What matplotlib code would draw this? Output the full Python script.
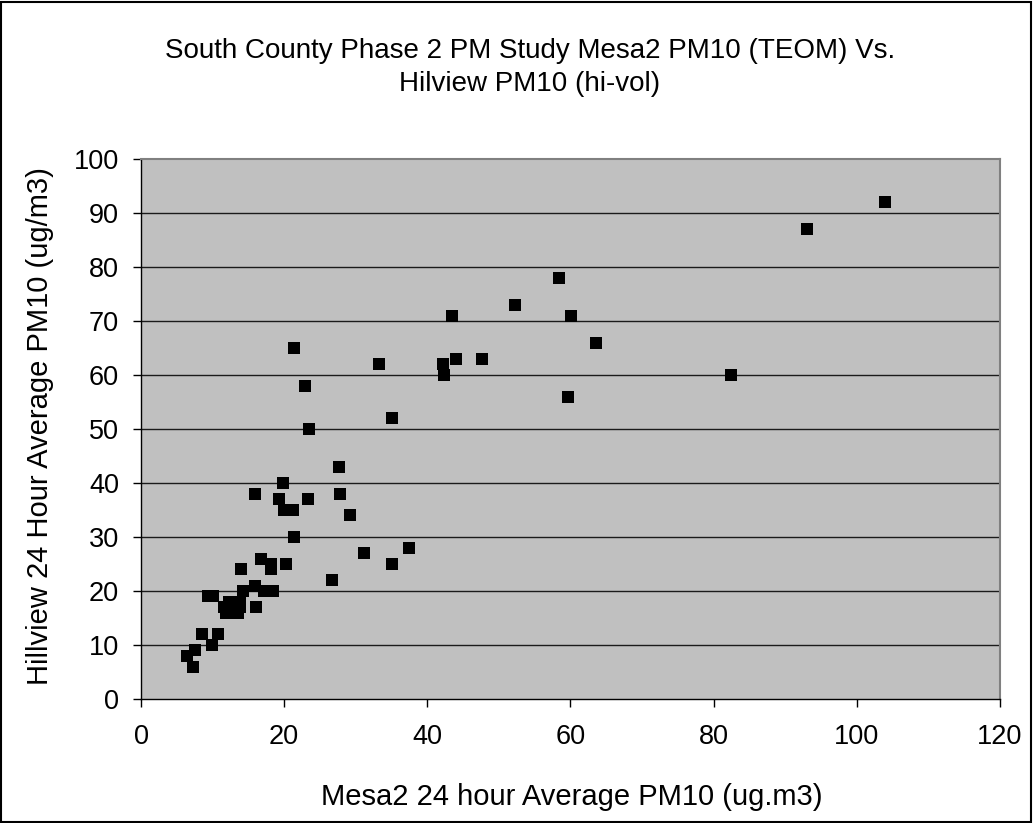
import matplotlib.pyplot as plt
from matplotlib.patches import Rectangle

plt.rcParams['font.family'] = ['Liberation Sans', 'DejaVu Sans']

# Mesa2 TEOM (x) vs Hillview hi-vol (y)
mesa2 = [103.9, 93.1, 82.4, 58.4, 52.2, 43.4, 60.1, 63.6, 44.0, 47.7,
         42.2, 42.4, 59.6, 33.3, 22.9, 35.0, 23.5, 27.6, 27.8, 21.4,
         19.85, 15.9, 19.3, 23.4, 20.0, 21.2, 29.2, 21.4, 31.1, 37.4,
         16.7, 18.1, 20.2, 35.0, 14.0, 18.2, 26.7, 15.9, 14.2, 17.2,
         18.5, 9.3, 10.1, 12.25, 13.8, 11.6, 13.9, 16.05, 11.9, 13.6,
         8.5, 10.7, 9.9, 7.6, 6.4, 7.2]
hillview = [92, 87, 60, 78, 73, 71, 71, 66, 63, 63,
            62, 60, 56, 62, 58, 52, 50, 43, 38, 65,
            40, 38, 37, 37, 35, 35, 34, 30, 27, 28,
            26, 25, 25, 25, 24, 24, 22, 21, 20, 20,
            20, 19, 19, 18, 18, 17, 17, 17, 16, 16,
            12, 12, 10, 9, 8, 6]

x_ticks = [0, 20, 40, 60, 80, 100, 120]
y_ticks = [0, 10, 20, 30, 40, 50, 60, 70, 80, 90, 100]

fig = plt.figure(figsize=(10.33, 8.23), dpi=100)
ax = fig.add_axes([0.1365, 0.1507, 0.8315, 0.6561])
ax.set_facecolor('#C0C0C0')

ax.scatter(mesa2, hillview, marker='s', s=64, color='black', zorder=3, linewidths=0)

ax.set_xlim(0, 120)
ax.set_ylim(0, 100)
ax.set_xticks(x_ticks)
ax.set_yticks(y_ticks)
ax.tick_params(labelsize=19.5, direction='out', length=5.8, width=1, color='black')
ax.tick_params(axis='x', pad=12)
ax.tick_params(axis='y', pad=10)

# horizontal gridlines
for y in y_ticks[1:-1]:
    ax.axhline(y, color='#1a1a1a', lw=1.0, zorder=1)

for s in ['top', 'right']:
    ax.spines[s].set_color('#808080')
    ax.spines[s].set_linewidth(1.5)
for s in ['left', 'bottom']:
    ax.spines[s].set_color('black')
    ax.spines[s].set_linewidth(1.0)

ax.set_xlabel('Mesa2 24 hour Average PM10 (ug.m3)', fontsize=21, va='center')
ax.set_ylabel('Hillview 24 Hour Average PM10 (ug/m3)', fontsize=21, va='center')
ax.xaxis.set_label_coords(0.5017, -0.1815)
ax.yaxis.set_label_coords(-0.1176, 0.5056)

fig.text(0.513, 0.938, 'South County Phase 2 PM Study Mesa2 PM10 (TEOM) Vs.',
         ha='center', va='center', fontsize=20)
fig.text(0.513, 0.898, 'Hilview PM10 (hi-vol)', ha='center', va='center', fontsize=20)

fig.patches.append(Rectangle((0.001, 0.001), 0.997, 0.997, transform=fig.transFigure,
                             fill=False, edgecolor='black', lw=1.5))

fig.savefig('out.png', dpi=100)
